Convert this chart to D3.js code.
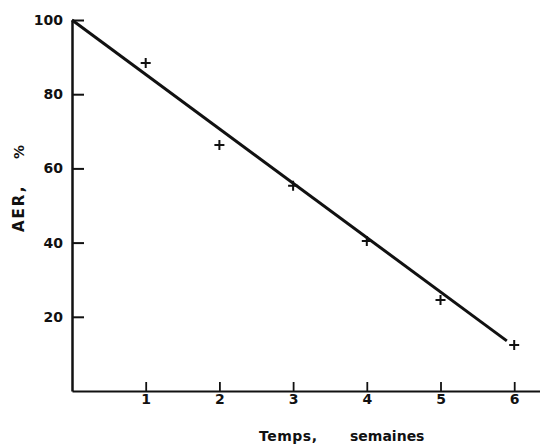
<!DOCTYPE html>
<html>
<head>
<meta charset="utf-8">
<script src="https://cdn.jsdelivr.net/npm/d3@7"></script>
<style>
  body { margin: 0; background: #fff; }
  text { font-family: "DejaVu Sans", "Liberation Sans", sans-serif; font-weight: bold; fill: #111; }
</style>
</head>
<body>
<div id="chart"></div>
<script>
const weeks = [1, 2, 3, 4, 5, 6];
const aer = [88.4, 66.3, 55.3, 40.4, 24.5, 12.4];
const fitLine = [[0, 100], [5.9, 13.5]];
const xTicks = [1, 2, 3, 4, 5, 6];
const yTicks = [20, 40, 60, 80, 100];

const width = 540, height = 444;
const margin = {top: 20, right: 0, bottom: 53, left: 72};
const innerW = width - margin.left - margin.right;
const innerH = height - margin.top - margin.bottom;

let svg = d3.select("#chart")
    .append("svg")
    .attr("width", width)
    .attr("height", height)
    .append("g")
    .attr("transform", `translate(${margin.left}, ${margin.top})`);

let x = d3.scaleLinear().domain([0, 6.35]).range([0, innerW]);
let y = d3.scaleLinear().domain([0, 100]).range([innerH, 0]);

// x axis: ticks pointing up, labels below
let xAxis = svg.append("g")
    .attr("transform", `translate(0, ${innerH})`)
    .call(d3.axisBottom(x).tickValues(xTicks).tickSize(0).tickFormat(d3.format("d")));
xAxis.select(".domain").attr("stroke", "#111").attr("stroke-width", 2);
xAxis.selectAll(".tick line").attr("y2", -9).attr("stroke", "#111").attr("stroke-width", 1.8);
xAxis.selectAll(".tick text").attr("y", 3).style("font-size", "14px");

// y axis: ticks pointing right, labels left
let yAxis = svg.append("g")
    .call(d3.axisLeft(y).tickValues(yTicks).tickSize(0));
yAxis.select(".domain").attr("stroke", "#111").attr("stroke-width", 2.5);
yAxis.selectAll(".tick line").attr("x2", 12).attr("stroke", "#111").attr("stroke-width", 2);
yAxis.selectAll(".tick text").attr("x", -9).style("font-size", "14px");

// fitted line
svg.append("path")
    .datum(fitLine)
    .attr("fill", "none")
    .attr("stroke", "#111")
    .attr("stroke-width", 3)
    .attr("d", d3.line().x(d => x(d[0])).y(d => y(d[1])));

// plus markers
let pts = weeks.map((w, i) => ({w: w, v: aer[i]}));
svg.selectAll(".pt")
    .data(pts)
    .enter()
    .append("path")
    .attr("class", "pt")
    .attr("transform", d => `translate(${x(d.w)}, ${y(d.v)})`)
    .attr("d", "M-5,0H5M0,-5V5")
    .attr("stroke", "#111")
    .attr("stroke-width", 2)
    .attr("fill", "none");

// axis titles (absolute page coords, outside the plot group)
let root = d3.select("#chart svg");
root.append("text")
    .attr("transform", "translate(24, 232)rotate(-90)")
    .style("text-anchor", "start")
    .style("font-size", "15px")
    .style("letter-spacing", "2px")
    .text("AER,");
root.append("text")
    .attr("transform", "translate(24, 159)rotate(-90)")
    .style("text-anchor", "start")
    .style("font-size", "14px")
    .text("%");

root.append("text")
    .attr("x", 259)
    .attr("y", 441)
    .style("font-size", "14px")
    .style("letter-spacing", "0.5px")
    .text("Temps,");
root.append("text")
    .attr("x", 350)
    .attr("y", 441)
    .style("font-size", "14px")
    .text("semaines");
</script>
</body>
</html>
